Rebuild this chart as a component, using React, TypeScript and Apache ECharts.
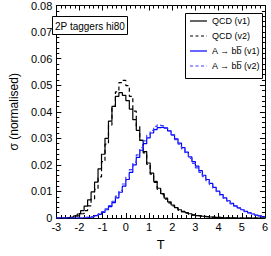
import React, { useEffect, useRef } from "react";
import * as echarts from "echarts";

const binStart = -3;
const binWidth = 0.15;

const qcdV1 = [
  0, 0, 0.0001, 0.0002, 0.0004, 0.0008, 0.0015, 0.0028, 0.0045, 0.0068,
  0.0098, 0.0135, 0.0185, 0.024, 0.03, 0.0365, 0.042, 0.0458, 0.0472, 0.0462,
  0.0442, 0.041, 0.037, 0.033, 0.0292, 0.025, 0.0207, 0.0169, 0.0138, 0.0112,
  0.0092, 0.0075, 0.0061, 0.0049, 0.0039, 0.0031, 0.0025, 0.002, 0.0016, 0.0012,
  0.0009, 0.0007, 0.0006, 0.0004, 0.0003, 0.0002, 0.0002, 0.0001, 0.0001, 0.0001,
  0.0001, 0, 0, 0, 0, 0, 0, 0, 0, 0,
];

const qcdV2 = [
  0, 0, 0, 0.0001, 0.0002, 0.0004, 0.0008, 0.0016, 0.0028, 0.0046,
  0.0072, 0.0108, 0.0155, 0.0212, 0.0278, 0.035, 0.042, 0.0475, 0.051, 0.0518,
  0.0498, 0.0458, 0.0402, 0.0345, 0.0292, 0.0245, 0.0202, 0.0165, 0.0134, 0.0108,
  0.0088, 0.0071, 0.0057, 0.0046, 0.0037, 0.0029, 0.0023, 0.0018, 0.0014, 0.0011,
  0.0009, 0.0007, 0.0005, 0.0004, 0.0003, 0.0002, 0.0002, 0.0001, 0.0001, 0.0001,
  0, 0, 0, 0, 0, 0, 0, 0, 0, 0,
];

const sigV1 = [
  0, 0, 0, 0, 0, 0, 0, 0.0001, 0.0002, 0.0003,
  0.0005, 0.0009, 0.0014, 0.0021, 0.0031, 0.0043, 0.0058, 0.0076, 0.0097, 0.012,
  0.0145, 0.0172, 0.02, 0.0228, 0.0255, 0.028, 0.0302, 0.032, 0.0333, 0.034,
  0.0342, 0.0338, 0.0328, 0.0313, 0.0298, 0.0282, 0.0265, 0.0248, 0.023, 0.0212,
  0.0195, 0.0178, 0.0161, 0.0145, 0.013, 0.0115, 0.0101, 0.0088, 0.0076, 0.0065,
  0.0055, 0.0046, 0.0038, 0.0031, 0.0025, 0.002, 0.0015, 0.0011, 0.0008, 0.0005,
];

const sigV2 = [
  0, 0, 0, 0, 0, 0, 0, 0.0001, 0.0002, 0.0004,
  0.0006, 0.001, 0.0016, 0.0024, 0.0034, 0.0047, 0.0063, 0.0082, 0.0104, 0.0128,
  0.0154, 0.0182, 0.021, 0.0238, 0.0265, 0.029, 0.0312, 0.033, 0.0345, 0.0351,
  0.0348, 0.034, 0.0328, 0.0312, 0.0295, 0.0278, 0.026, 0.0242, 0.0224, 0.0206,
  0.0189, 0.0172, 0.0156, 0.0141, 0.0126, 0.0112, 0.0098, 0.0086, 0.0074, 0.0063,
  0.0053, 0.0045, 0.0037, 0.003, 0.0024, 0.0019, 0.0015, 0.0011, 0.0008, 0.0005,
];

const seriesNames = ["QCD (v1)", "QCD (v2)", "A \u2192 bb\u0305 (v1)", "A \u2192 bb\u0305 (v2)"];
const seriesColors = ["#000000", "#000000", "#0000ff", "#3a3aff"];
const seriesDashed = [false, true, false, true];
const xTicks = ["-3", "-2", "-1", "0", "1", "2", "3", "4", "5", "6"];
const yTicks = ["0", "0.01", "0.02", "0.03", "0.04", "0.05", "0.06", "0.07", "0.08"];
const boxLabel = "2P taggers hi80";

function toSteps(vals: number[]) {
  const pts: [number, number][] = vals.map((v, i) => [
    +(binStart + i * binWidth).toFixed(4),
    v,
  ]);
  pts.push([+(binStart + vals.length * binWidth).toFixed(4), vals[vals.length - 1]]);
  return pts;
}

const FONT = "Liberation Sans";

export default function App() {
  const ref = useRef<HTMLDivElement>(null);
  useEffect(() => {
    if (!ref.current) return;
    const chart = echarts.init(ref.current, undefined, { renderer: "svg" });
    const axisCommon = {
      axisLine: { show: true, onZero: false, lineStyle: { color: "#000", width: 1 } },
      axisTick: { show: true, inside: true, length: 5, lineStyle: { color: "#000" } },
      minorTick: { show: true, splitNumber: 5, length: 3, lineStyle: { color: "#000" } },
      splitLine: { show: false },
    };
    const allData = [qcdV1, qcdV2, sigV1, sigV2];
    const series = allData.map((d, i) => ({
      name: seriesNames[i],
      type: "line",
      step: "end",
      data: toSteps(d),
      showSymbol: false,
      symbol: "none",
      lineStyle: {
        color: seriesColors[i],
        width: 1.2,
        type: seriesDashed[i] ? [4, 3] : "solid",
      },
      itemStyle: { color: seriesColors[i] },
      xAxisIndex: 0,
      yAxisIndex: 0,
    }));

    const LX = 185;
    const LY = 13;
    const graphics: any[] = [
      {
        type: "rect",
        z: 100,
        shape: { x: 52.5, y: 16.5, width: 75, height: 18 },
        style: { fill: "#fff", stroke: "#000", lineWidth: 1 },
      },
      {
        type: "text",
        z: 101,
        x: 90,
        y: 26,
        style: {
          text: boxLabel,
          fontSize: 10,
          fontFamily: FONT,
          fill: "#000",
          align: "center",
          verticalAlign: "middle",
        },
      },
      {
        type: "rect",
        z: 100,
        shape: { x: LX + 0.5, y: LY + 0.5, width: 77, height: 65 },
        style: { fill: "#fff", stroke: "#000", lineWidth: 1 },
      },
    ];
    seriesNames.forEach((n, i) => {
      const y = LY + 8 + i * 15;
      graphics.push({
        type: "line",
        z: 101,
        shape: { x1: LX + 5, y1: y, x2: LX + 22, y2: y },
        style: {
          stroke: seriesColors[i],
          lineWidth: 1.2,
          lineDash: seriesDashed[i] ? [3, 2.5] : null,
        },
      });
      graphics.push({
        type: "text",
        z: 101,
        x: LX + 27,
        y,
        style: {
          text: n,
          fontSize: 9,
          fontFamily: FONT,
          fill: "#000",
          align: "left",
          verticalAlign: "middle",
        },
      });
    });

    chart.setOption({
      animation: false,
      textStyle: { fontFamily: FONT },
      grid: { left: 40, right: 5, top: 5, bottom: 24, containLabel: false },
      xAxis: [
        {
          type: "value",
          min: -3,
          max: 6,
          interval: 1,
          position: "bottom",
          name: "T",
          nameLocation: "middle",
          nameGap: 20,
          nameTextStyle: { fontSize: 13, color: "#000", fontFamily: FONT },
          axisLabel: {
            fontSize: 11,
            color: "#000",
            margin: 3,
            fontFamily: FONT,
            formatter: (v: number) => xTicks[Math.round(v + 3)] ?? "",
          },
          ...axisCommon,
        },
        {
          type: "value",
          min: -3,
          max: 6,
          interval: 1,
          position: "top",
          axisLabel: { show: false },
          ...axisCommon,
        },
      ],
      yAxis: [
        {
          type: "value",
          min: 0,
          max: 0.08,
          interval: 0.01,
          position: "left",
          name: "\u03c3 (normalised)",
          nameLocation: "middle",
          nameGap: 27,
          nameTextStyle: { fontSize: 12, color: "#000", fontFamily: FONT },
          axisLabel: {
            fontSize: 11,
            color: "#000",
            margin: 4,
            fontFamily: FONT,
            formatter: (v: number) => yTicks[Math.round(v * 100)] ?? "",
          },
          ...axisCommon,
        },
        {
          type: "value",
          min: 0,
          max: 0.08,
          interval: 0.01,
          position: "right",
          axisLabel: { show: false },
          ...axisCommon,
        },
      ],
      graphic: graphics,
      series,
    });
    return () => chart.dispose();
  }, []);
  return (
    <div
      ref={ref}
      style={{ position: "absolute", left: 0, top: 0, width: 271, height: 256 }}
    />
  );
}
